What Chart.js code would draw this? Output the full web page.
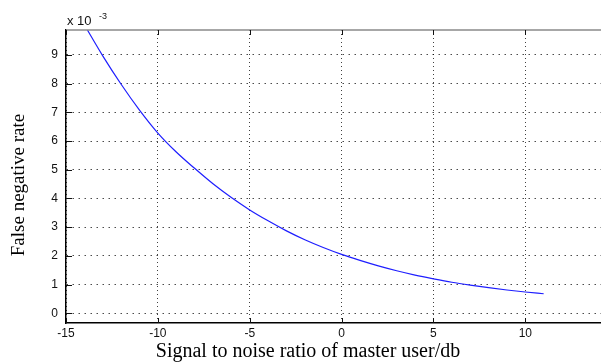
<!DOCTYPE html>
<html>
<head>
<meta charset="utf-8">
<script src="https://cdn.jsdelivr.net/npm/chart.js@4/dist/chart.umd.min.js"></script>
<style>
    body { margin: 0; background: #fff; }
    #wrap { width: 601px; height: 364px; }
</style>
</head>
<body>
<div id="wrap"><canvas id="fnrChart" width="601" height="364"></canvas></div>
<script>
// データ（縦軸は x10^-3 単位）
const snrDb = [-14, -13, -12, -11, -10, -9, -8, -7, -6, -5, -4, -3, -2, -1, 0, 1, 2, 3, 4, 5, 6, 7, 8, 9, 10, 11];
const falseNegRate = [10.05, 8.97, 7.98, 7.08, 6.28, 5.62, 5.05, 4.51, 4.03, 3.6, 3.22, 2.87, 2.56, 2.29, 2.05, 1.84, 1.65, 1.48, 1.33, 1.2, 1.08, 0.98, 0.89, 0.81, 0.74, 0.68];
const xTicks = [-15, -10, -5, 0, 5, 10];
const yTicks = [0, 1, 2, 3, 4, 5, 6, 7, 8, 9];

const xTitle = 'Signal to noise ratio of master user/db';
const yTitle = 'False negative rate';

// 枠線・目盛り・指数ラベル・軸タイトルを描くプラグイン
const framePlugin = {
    id: 'frame',
    afterDraw(chart) {
        const ctx = chart.ctx;
        const area = chart.chartArea;
        const xs = chart.scales.x;
        const ys = chart.scales.y;
        ctx.save();

        // 上の枠線
        ctx.strokeStyle = '#8a8a8a';
        ctx.lineWidth = 1.5;
        ctx.beginPath();
        ctx.moveTo(area.left, area.top);
        ctx.lineTo(area.right, area.top);
        ctx.stroke();

        // 内向きの目盛り
        ctx.strokeStyle = '#111';
        ctx.lineWidth = 1;
        xTicks.forEach(v => {
            const px = Math.round(xs.getPixelForValue(v)) + 0.5;
            ctx.beginPath();
            ctx.moveTo(px, area.bottom);
            ctx.lineTo(px, area.bottom - 5);
            ctx.moveTo(px, area.top);
            ctx.lineTo(px, area.top + 5);
            ctx.stroke();
        });
        yTicks.forEach(v => {
            const py = Math.round(ys.getPixelForValue(v)) + 0.5;
            ctx.beginPath();
            ctx.moveTo(area.left, py);
            ctx.lineTo(area.left + 6, py);
            ctx.stroke();
        });

        // x 10^-3
        ctx.fillStyle = '#111';
        ctx.textBaseline = 'alphabetic';
        ctx.textAlign = 'left';
        ctx.font = '13px "Liberation Sans", Arial, sans-serif';
        ctx.fillText('x 10', 67, 25);
        ctx.font = '9px "Liberation Sans", Arial, sans-serif';
        ctx.fillText('-3', 99, 19);

        // 横軸タイトル
        ctx.fillStyle = '#000';
        ctx.font = '20px "Liberation Serif", "Times New Roman", serif';
        ctx.textAlign = 'center';
        ctx.textBaseline = 'middle';
        ctx.fillText(xTitle, 308, 352);

        // 縦軸タイトル
        ctx.font = '19px "Liberation Serif", "Times New Roman", serif';
        ctx.translate(19, 185);
        ctx.rotate(-Math.PI / 2);
        ctx.fillText(yTitle, 0, 0);
        ctx.restore();
    }
};

const ctx = document.getElementById('fnrChart').getContext('2d');
new Chart(ctx, {
    type: 'line',
    data: {
        labels: snrDb,
        datasets: [{
            data: snrDb.map((x, i) => ({ x: x, y: falseNegRate[i] })),
            borderColor: 'rgb(30, 30, 255)',
            borderWidth: 1.2,
            pointRadius: 0,
            tension: 0.4,
            cubicInterpolationMode: 'monotone',
            fill: false
        }]
    },
    options: {
        responsive: false,
        animation: false,
        devicePixelRatio: 1,
        layout: { padding: { top: 30, right: 0, left: 0, bottom: 0 } },
        plugins: {
            legend: { display: false },
            tooltip: { enabled: false }
        },
        scales: {
            x: {
                type: 'linear',
                min: -15,
                max: 14.12,
                afterBuildTicks: s => { s.ticks = xTicks.map(v => ({ value: v })); },
                afterFit: s => { s.height = 41; },
                grid: {
                    color: 'rgba(0, 0, 0, 0.75)',
                    lineWidth: 1,
                    drawTicks: false
                },
                border: { display: true, color: '#000', width: 1.5, dash: [1, 3] },
                ticks: {
                    padding: 3,
                    color: '#111',
                    font: { family: '"Liberation Sans", Arial, sans-serif', size: 12 },
                    maxRotation: 0
                }
            },
            y: {
                type: 'linear',
                min: -0.34,
                max: 9.87,
                afterBuildTicks: s => { s.ticks = yTicks.map(v => ({ value: v })); },
                afterFit: s => { s.width = 66; },
                grid: {
                    color: 'rgba(0, 0, 0, 0.7)',
                    lineWidth: 1,
                    drawTicks: false
                },
                border: { display: true, color: '#000', width: 1.5, dash: [1.5, 4.5] },
                ticks: {
                    padding: 8,
                    color: '#111',
                    font: { family: '"Liberation Sans", Arial, sans-serif', size: 12 }
                }
            }
        }
    },
    plugins: [framePlugin]
});
</script>
</body>
</html>
